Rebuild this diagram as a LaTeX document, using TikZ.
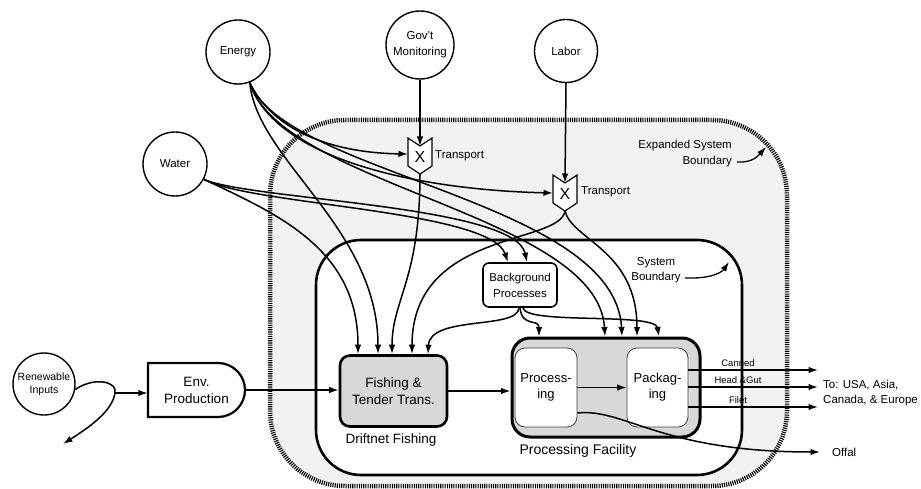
\documentclass[tikz,border=0pt]{standalone}
\usepackage{fontspec}
\setmainfont{Liberation Sans}
\usetikzlibrary{arrows.meta}
\definecolor{bggray}{HTML}{F2F2F2}
\definecolor{boxgray}{HTML}{D8D8D8}
\begin{document}
\begin{tikzpicture}[x=1pt,y=-1pt,
  >={Latex[length=9.5pt,width=6.5pt]},
  flow/.style={line width=1.5pt,->},
  plain/.style={line width=1.5pt},
  circ/.style={circle,draw,line width=1.4pt,fill=white,inner sep=0pt,align=center,font=\fontsize{11.5}{16}\selectfont},
  rbox/.style={rectangle,draw,fill=white,align=center,inner sep=0pt},
  lbl/.style={align=center,inner sep=0pt},
  tshape/.style={line width=1.2pt,fill=white},
]
\useasboundingbox (0,0) rectangle (921,489);

% boundaries
\draw[fill=bggray,line width=4.5pt,dash pattern=on 1.1pt off 1.1pt,rounded corners=75pt] (270,120) rectangle (787,486);
\draw[fill=white,line width=2.6pt,rounded corners=45pt] (316,240) rectangle (742,475);

% sources
\node[circ,minimum size=64] (E) at (238,52) {Energy};
\node[circ,minimum size=68] (G) at (420,45) {Gov't\\Monitoring};
\node[circ,minimum size=63] (L) at (566,51) {Labor};
\node[circ,minimum size=64] (W) at (175,164) {Water};
\node[circ,minimum size=62,font=\fontsize{10.5}{13}\selectfont] (R) at (44,384) {Renewable\\Inputs};

% env production
\draw[line width=2.2pt,fill=white] (148,363) -- (218,363) arc (-90:90:27) -- (148,417) -- cycle;
\node[lbl,minimum width=97,minimum height=54,font=\fontsize{13.5}{17}\selectfont] (EnvP) at (196.5,390) {Env.\\Production};

% transports
\draw[tshape] (408,138) -- (420,146) -- (432,138) -- (432,166) -- (420,174) -- (408,166) -- cycle;
\node[font=\fontsize{16}{16}\selectfont,inner sep=0pt] (T1) at (420,157) {X};
\coordinate (T1in) at (420,146);
\coordinate (T1l) at (408,154);
\coordinate (T1b) at (420,174);
\node[anchor=west,inner sep=0pt,font=\fontsize{11.5}{13}\selectfont] (T1lab) at (435,156) {Transport};

\draw[tshape] (553,175) -- (565,183) -- (577,175) -- (577,203) -- (565,211) -- (553,203) -- cycle;
\node[font=\fontsize{16}{16}\selectfont,inner sep=0pt] (T2) at (565,194) {X};
\coordinate (T2in) at (565,183);
\coordinate (T2l) at (553,193);
\coordinate (T2b) at (565,211);
\node[anchor=west,inner sep=0pt,font=\fontsize{11.5}{13}\selectfont] (T2lab) at (581,192) {Transport};

% inner nodes
\node[rbox,fill=boxgray,line width=2.6pt,rounded corners=10pt,minimum width=107,minimum height=71,font=\fontsize{13.5}{17}\selectfont] (F) at (393.5,391) {Fishing \&\\Tender Trans.};
\node[lbl,font=\fontsize{13.5}{15}\selectfont] (FL) at (391,440) {Driftnet Fishing};
\node[rbox,line width=1.6pt,rounded corners=6pt,minimum width=74,minimum height=44,font=\fontsize{11.5}{16}\selectfont] (BG) at (520,285) {Background\\Processes};
\node[rbox,fill=boxgray,line width=3pt,rounded corners=18pt,minimum width=188,minimum height=99] (PF) at (606,387.5) {};
\node[rbox,draw=black!75,line width=0.8pt,rounded corners=10pt,minimum width=62,minimum height=79,font=\fontsize{13}{16}\selectfont] (Pr) at (546,387.5) {Process-\\ing};
\node[rbox,draw=black!75,line width=0.8pt,rounded corners=10pt,minimum width=61,minimum height=79,font=\fontsize{13}{16}\selectfont] (Pk) at (657.5,387.5) {Packag-\\ing};
\node[lbl,font=\fontsize{14}{15}\selectfont] (PFL) at (578,451) {Processing Facility};

% boundary labels
\node[lbl,font=\fontsize{11.5}{15.5}\selectfont] (SB) at (656,270) {System\\Boundary};
\coordinate (SBp) at (729,262);
\draw[line width=1.3pt,->] ([xshift=4pt,yshift=-8pt]SB.east) .. controls (712,279) and (722,272) .. (SBp);
\node[lbl,align=right,anchor=east,font=\fontsize{11.5}{16}\selectfont] (ESB) at (732,154) {Expanded System\\Boundary};
\coordinate (ESBp) at (766,147);
\draw[line width=1.3pt,->] ([xshift=5pt,yshift=-8pt]ESB.east) .. controls (752,163) and (758,156) .. (ESBp);

% gov and labor to transports
\draw[flow] (G.south) -- (T1in);
\draw[flow] (L.south) -- (T2in);

% energy flows
\draw[flow] (E.-69) .. controls (275,135) and (340,153) .. (T1l);
\draw[flow] (E.-69) .. controls (275,160) and (420,190) .. (T2l);
\draw[flow] (E.-69) .. controls (280,185) and (598,215) .. ([xshift=-1pt]PF.north);
\draw[flow] (E.-69) .. controls (285,175) and (615,200) .. ([xshift=16pt]PF.north);
\draw[flow] (E.-69) .. controls (257,160) and (378,228) .. ([xshift=-15.5pt]F.north);

% water flows
\draw[flow] (W.-28) .. controls (280,215) and (358,250) .. ([xshift=-35.5pt]F.north);
\draw[flow] (W.-28) .. controls (250,205) and (490,210) .. ([xshift=-12pt]BG.north);
\draw[flow] (W.-28) .. controls (250,200) and (515,205) .. ([xshift=7pt]BG.north);

% transport outflows
\draw[flow] (T1b) .. controls (420,280) and (392,300) .. ([xshift=-1.5pt]F.north);
\draw[flow] (T2b) .. controls (560,245) and (412,230) .. ([xshift=18.5pt]F.north);
\draw[flow] (T2b) .. controls (572,240) and (637,250) .. ([xshift=31pt]PF.north);

% background outflows
\draw[flow] ([xshift=-1pt]BG.south) .. controls (518,330) and (430,315) .. ([xshift=34.5pt]F.north);
\draw[flow] ([xshift=0pt]BG.south) .. controls (522,328) and (539,318) .. ([xshift=-67pt]PF.north);
\draw[flow] ([xshift=3pt]BG.south) .. controls (525,325) and (655,312) .. ([xshift=53pt]PF.north);

% renewable inputs
\coordinate (split) at (115,393);
\coordinate (back) at (63,444);
\draw[plain] (R.-10) .. controls (95,376) and (118,382) .. (split);
\draw[flow] (split) .. controls (112,412) and (88,428) .. (back);
\draw[flow] (split) -- (split -| EnvP.west);

% main chain
\draw[flow] (EnvP.east) -- (EnvP.east -| F.west);
\draw[flow] (F.east) -- (F.east -| PF.west);
\draw[flow] (Pr.east) -- (Pk.west);

% outputs
\coordinate (o1) at (818,370);
\coordinate (o2) at (818,387);
\coordinate (o3) at (818,407);
\draw[flow] (Pk.east |- o1) -- (o1);
\draw[flow] (Pk.east |- o2) -- (o2);
\draw[flow] (Pk.east |- o3) -- (o3);
\node[lbl,font=\fontsize{9.5}{11}\selectfont] (c1) at (738,363) {Canned};
\node[lbl,font=\fontsize{9.5}{11}\selectfont] (c2) at (738,380) {Head \&Gut};
\node[lbl,font=\fontsize{9.5}{11}\selectfont] (c3) at (738,400) {Filet};
\node[lbl,align=left,anchor=west,font=\fontsize{11.5}{15}\selectfont] (To) at (823,393) {To: USA, Asia,\\Canada, \& Europe};

\coordinate (off) at (820,452);
\draw[flow] ([yshift=-25.5pt]Pr.east) .. controls (625,408) and (660,452) .. (off);
\node[lbl,anchor=west,font=\fontsize{11.5}{13}\selectfont] (OffL) at (832,452) {Offal};
\end{tikzpicture}
\end{document}
